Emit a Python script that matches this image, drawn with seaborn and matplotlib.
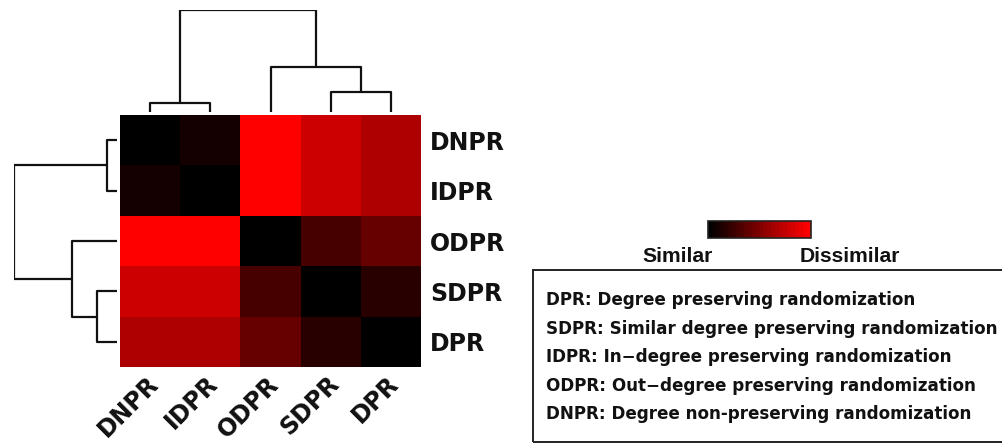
import numpy as np
import pandas as pd
import matplotlib
matplotlib.use("Agg")
import matplotlib.pyplot as plt
import seaborn as sns
from matplotlib.colors import LinearSegmentedColormap, ListedColormap
from matplotlib.patches import Rectangle

# ---------------- data ----------------
methods = ["DNPR", "IDPR", "ODPR", "SDPR", "DPR"]
dnpr = [0.00, 0.08, 1.00, 0.78, 0.66]
idpr = [0.08, 0.00, 0.99, 0.79, 0.68]
odpr = [1.00, 0.99, 0.00, 0.29, 0.40]
sdpr = [0.78, 0.79, 0.29, 0.00, 0.17]
dpr = [0.66, 0.68, 0.40, 0.17, 0.00]

# hierarchical clustering merges (leaves 0..4 follow `methods`; new clusters get 5, 6, ...)
merge_left = [0, 3, 2, 5]
merge_right = [1, 4, 6, 7]
merge_height = [0.09, 0.19, 0.44, 1.00]

cbar_low_label = "Similar"
cbar_high_label = "Dissimilar"
legend_lines = [
    "DPR: Degree preserving randomization",
    "SDPR: Similar degree preserving randomization",
    "IDPR: In\u2212degree preserving randomization",
    "ODPR: Out\u2212degree preserving randomization",
    "DNPR: Degree non-preserving randomization",
]

# ---------------- figure ----------------
W, H = 1002, 444
sns.set_style("white")
plt.rcParams["font.family"] = ["DejaVu Sans"]
fig = plt.figure(figsize=(W / 100, H / 100), dpi=100)


def fx(px):
    return px / W


def fy(py):
    return 1 - py / H


def box(x0, y0, x1, y1):
    return [fx(x0), fy(y1), fx(x1) - fx(x0), fy(y0) - fy(y1)]


df = pd.DataFrame([dnpr, idpr, odpr, sdpr, dpr], index=methods, columns=methods)

base = LinearSegmentedColormap.from_list("blkred", ["#000000", "#ff0000"])
cmap = ListedColormap(base(np.linspace(0, 1, 26)))

ax = fig.add_axes(box(120, 115, 421, 367))
cax = fig.add_axes(box(708, 221, 811, 238))
sns.heatmap(df, ax=ax, cmap=cmap, vmin=0, vmax=1, cbar_ax=cax,
            cbar_kws=dict(orientation="horizontal", ticks=[]),
            xticklabels=True, yticklabels=True, square=False)

ax.yaxis.tick_right()
ax.set_yticklabels(methods, rotation=0, ha="left", fontsize=17,
                   fontweight="bold", color="#111111")
ax.set_xticks(np.arange(len(methods)) + 0.5 - 0.07)
ax.set_xticklabels(methods, rotation=45, ha="right", va="top",
                   rotation_mode="anchor", fontsize=17,
                   fontweight="bold", color="#111111")
ax.tick_params(axis="y", length=0, pad=6.5)
ax.tick_params(axis="x", length=0, pad=3.5)
ax.set_xlabel("")
ax.set_ylabel("")

cbar = ax.collections[0].colorbar
cbar.outline.set_linewidth(1.2)
cbar.outline.set_edgecolor("#222222")
cax.tick_params(length=0)


# ---------------- dendrograms ----------------
def dendro_segments(n, lefts, rights, heights):
    pos = {i: i + 0.5 for i in range(n)}
    hh = {i: 0.0 for i in range(n)}
    segs = []
    for k, (a, b, ht) in enumerate(zip(lefts, rights, heights)):
        segs.append(([pos[a], pos[a], pos[b], pos[b]], [hh[a], ht, ht, hh[b]]))
        pos[n + k] = (pos[a] + pos[b]) / 2
        hh[n + k] = ht
    return segs


segs = dendro_segments(len(methods), merge_left, merge_right, merge_height)

top = fig.add_axes(box(120, 10, 421, 111.7))
for xs, ys in segs:
    top.plot(xs, ys, color="#111111", lw=1.6, solid_capstyle="butt")
top.set_xlim(0, len(methods))
top.set_ylim(0, max(merge_height))
top.axis("off")

left = fig.add_axes(box(14, 115, 116.7, 367))
for xs, ys in segs:
    left.plot(ys, xs, color="#111111", lw=1.6, solid_capstyle="butt")
left.set_ylim(len(methods), 0)
left.set_xlim(max(merge_height), 0)
left.axis("off")

# ---------------- colour key labels ----------------
fig.text(fx(678), fy(262), cbar_low_label, ha="center", va="baseline",
         fontsize=15.2, fontweight="bold", family=["Liberation Sans", "DejaVu Sans"],
         color="#111111")
fig.text(fx(850), fy(262), cbar_high_label, ha="center", va="baseline",
         fontsize=15.2, fontweight="bold", family=["Liberation Sans", "DejaVu Sans"],
         color="#111111")

# ---------------- legend box ----------------
fig.patches.append(Rectangle((fx(533), fy(442)), fx(1010) - fx(533), fy(270) - fy(442),
                             transform=fig.transFigure, fill=False,
                             edgecolor="#222222", lw=1.4))
for i, line in enumerate(legend_lines):
    fig.text(fx(546.5), fy(305 + i * 28.6), line, ha="left", va="baseline",
             fontsize=12.1, fontweight="bold", color="#111111")

fig.savefig("out.png", dpi=100)
